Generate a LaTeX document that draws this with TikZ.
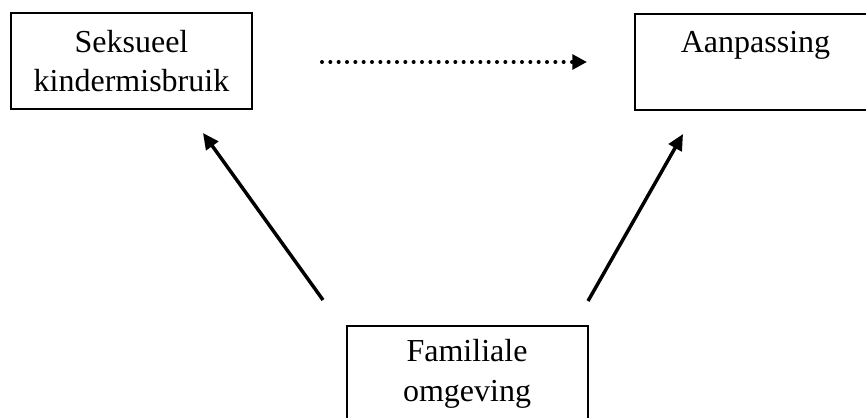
\documentclass[tikz,border=0pt]{standalone}
\usepackage{fontspec}
\setmainfont{Liberation Serif}
\usetikzlibrary{arrows.meta}
\tikzset{
  vak/.style={draw,line width=1.5pt,minimum width=180.75pt,minimum height=72pt,
    align=center,inner sep=0pt,font=\fontsize{24}{29.5}\selectfont},
  pijl/.style={line width=2.6pt,-{Triangle[length=12pt,width=11pt]}},
  stippel/.style={line width=3pt,line cap=round,dash pattern=on 0pt off 6.25pt,
    -{Triangle[length=11pt,width=11pt]}}
}
\begin{document}
\begin{tikzpicture}[x=0.75pt,y=-0.75pt]
  \useasboundingbox (0,0) rectangle (866,417);
  \clip (0,0) rectangle (866,417);
  \node[vak] (sek) at (131.5,61) {Seksueel\\kindermisbruik};
  \node[vak] (aan) at (755.5,62) {Aanpassing\\\mbox{}};
  \node[vak] (fam) at (467,374) {Familiale\\omgeving};
  \coordinate (d1) at (322,62);
  \coordinate (d2) at (587,62);
  \coordinate (l1) at (323,300);
  \coordinate (l2) at (203,133);
  \coordinate (r1) at (588,301);
  \coordinate (r2) at (683,134);
  \draw[stippel] (d1) -- (d2);
  \draw[pijl] (l1) -- (l2);
  \draw[pijl] (r1) -- (r2);
\end{tikzpicture}
\end{document}
